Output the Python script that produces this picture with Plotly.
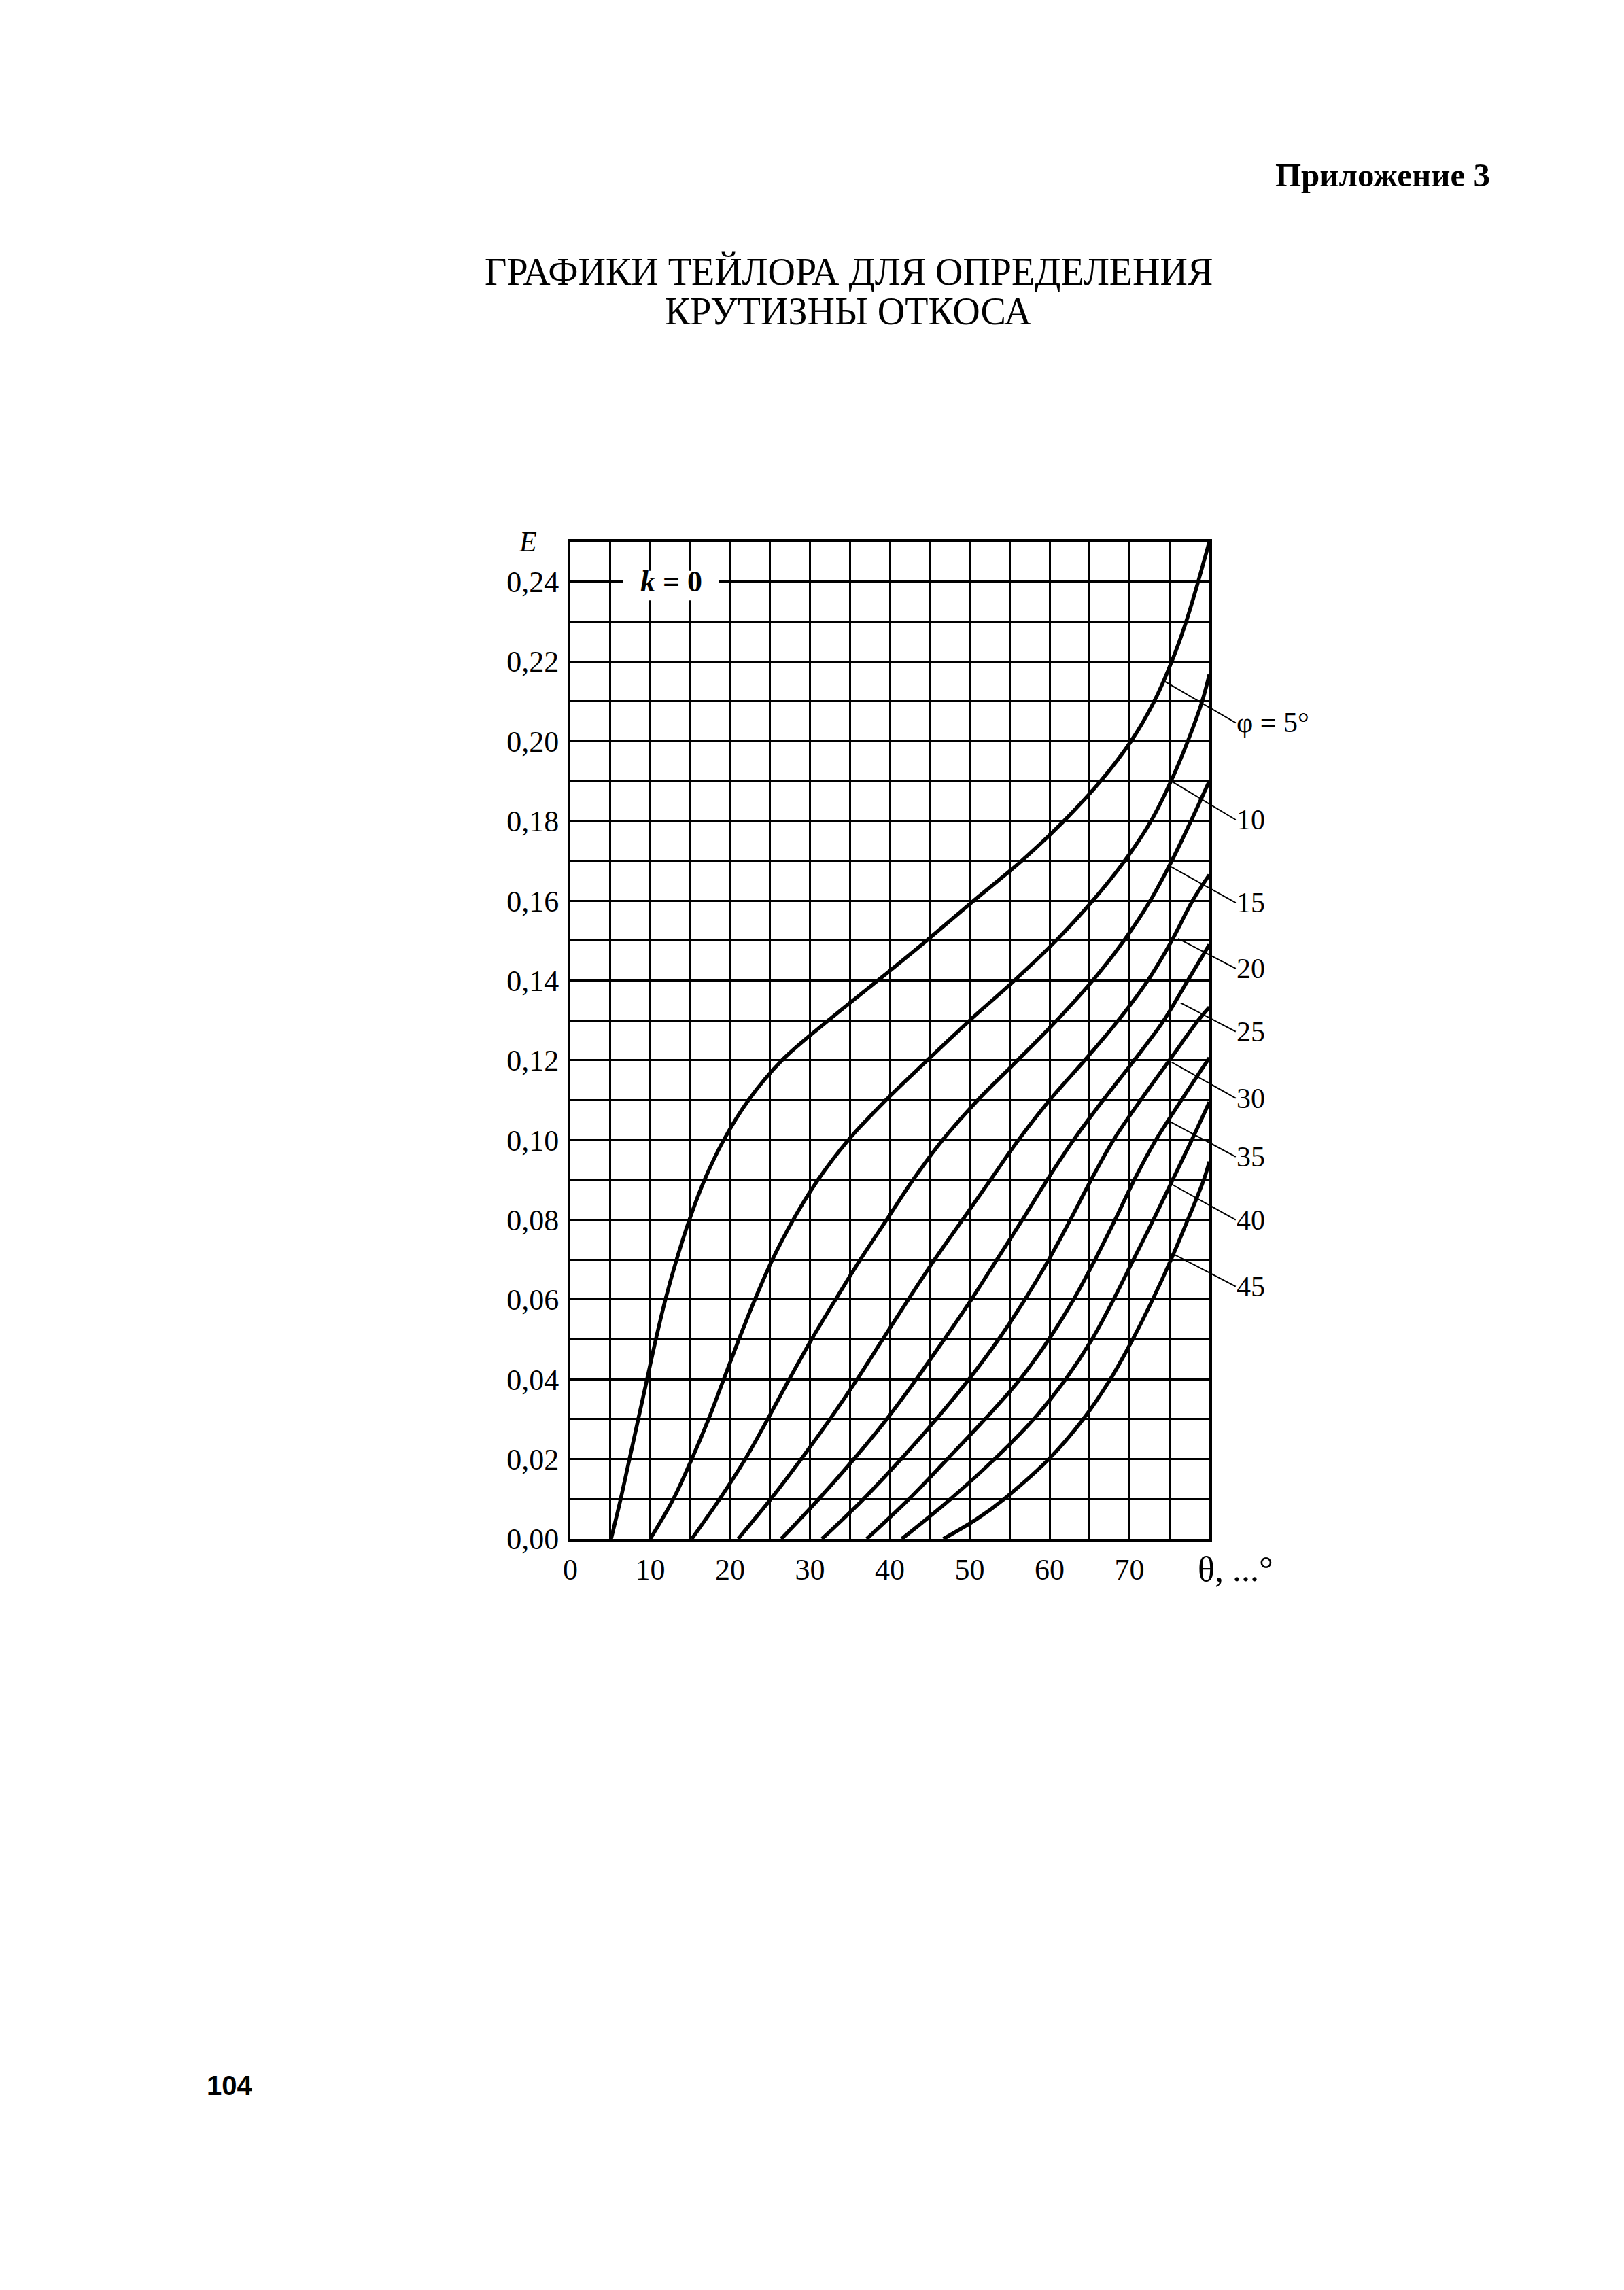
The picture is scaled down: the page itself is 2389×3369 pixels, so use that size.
import plotly.graph_objects as go

# ---------------- data ----------------
phi_labels = ["φ = 5°", "10", "15", "20", "25", "30", "35", "40", "45"]

theta_phi5 = [5.1, 6.3, 7.4, 8.5, 9.6, 10.7, 11.9, 13.3, 14.9, 16.8, 19.2, 22.3, 26.5,
              32.3, 38.5, 44.6, 50.5, 56.5, 61.8, 66.4, 70.2, 73.1, 75.3, 77.1, 78.6, 80.0]
E_phi5 = [0.00, 0.01, 0.02, 0.03, 0.04, 0.05, 0.06, 0.07, 0.08, 0.09, 0.10, 0.11, 0.12,
          0.13, 0.14, 0.15, 0.16, 0.17, 0.18, 0.19, 0.20, 0.21, 0.22, 0.23, 0.24, 0.25]

theta_phi10 = [10.0, 12.9, 15.2, 17.3, 19.2, 21.1, 23.1, 25.3, 27.9, 31.0, 34.8, 39.5,
               44.7, 50.0, 55.6, 60.8, 65.4, 69.4, 72.7, 75.2, 77.3, 79.1, 80.0]
E_phi10 = [0.00, 0.01, 0.02, 0.03, 0.04, 0.05, 0.06, 0.07, 0.08, 0.09, 0.10, 0.11,
           0.12, 0.13, 0.14, 0.15, 0.16, 0.17, 0.18, 0.19, 0.20, 0.21, 0.2167]

theta_phi15 = [15.2, 18.7, 21.9, 24.7, 27.4, 30.2, 33.2, 36.3, 39.6, 42.9, 46.6, 51.0,
               56.0, 60.9, 65.4, 69.3, 72.6, 75.3, 77.7, 80.0]
E_phi15 = [0.00, 0.01, 0.02, 0.03, 0.04, 0.05, 0.06, 0.07, 0.08, 0.09, 0.10, 0.11,
           0.12, 0.13, 0.14, 0.15, 0.16, 0.17, 0.18, 0.19]

theta_phi20 = [21.0, 25.1, 28.9, 32.5, 35.9, 39.1, 42.3, 45.6, 49.1, 52.6, 56.1, 60.0,
               64.4, 68.6, 72.3, 75.3, 77.9, 80.0]
E_phi20 = [0.00, 0.01, 0.02, 0.03, 0.04, 0.05, 0.06, 0.07, 0.08, 0.09, 0.10, 0.11,
           0.12, 0.13, 0.14, 0.15, 0.16, 0.1665]

theta_phi25 = [26.4, 31.1, 35.5, 39.6, 43.3, 46.8, 50.2, 53.4, 56.6, 59.7, 63.0, 66.7,
               70.6, 74.3, 77.3, 80.0]
E_phi25 = [0.00, 0.01, 0.02, 0.03, 0.04, 0.05, 0.06, 0.07, 0.08, 0.09, 0.10, 0.11,
           0.12, 0.13, 0.14, 0.149]

theta_phi30 = [31.5, 36.7, 41.4, 45.8, 49.9, 53.6, 56.9, 59.9, 62.6, 65.2, 68.0, 71.4,
               75.0, 78.6, 80.0]
E_phi30 = [0.00, 0.01, 0.02, 0.03, 0.04, 0.05, 0.06, 0.07, 0.08, 0.09, 0.10, 0.11,
           0.12, 0.13, 0.1333]

theta_phi35 = [37.1, 42.4, 47.2, 51.9, 56.3, 59.9, 63.0, 65.7, 68.2, 70.6, 73.3, 76.5, 80.0]
E_phi35 = [0.00, 0.01, 0.02, 0.03, 0.04, 0.05, 0.06, 0.07, 0.08, 0.09, 0.10, 0.11, 0.1206]

theta_phi40 = [41.5, 47.6, 53.1, 58.0, 62.0, 65.3, 68.0, 70.5, 73.0, 75.4, 77.8, 80.0]
E_phi40 = [0.00, 0.01, 0.02, 0.03, 0.04, 0.05, 0.06, 0.07, 0.08, 0.09, 0.10, 0.1095]

theta_phi45 = [46.7, 50.9, 54.3, 59.9, 64.2, 67.6, 70.4, 72.9, 75.2, 77.3, 79.3, 80.0]
E_phi45 = [0.00, 0.005, 0.01, 0.02, 0.03, 0.04, 0.05, 0.06, 0.07, 0.08, 0.09, 0.0946]

x_tick_vals = [0, 10, 20, 30, 40, 50, 60, 70]
x_tick_text = ["0", "10", "20", "30", "40", "50", "60", "70"]
y_tick_vals = [0.00, 0.02, 0.04, 0.06, 0.08, 0.10, 0.12, 0.14, 0.16, 0.18, 0.20, 0.22, 0.24]
y_tick_text = ["0,00", "0,02", "0,04", "0,06", "0,08", "0,10", "0,12", "0,14",
               "0,16", "0,18", "0,20", "0,22", "0,24"]

curves_theta = [theta_phi5, theta_phi10, theta_phi15, theta_phi20, theta_phi25,
                theta_phi30, theta_phi35, theta_phi40, theta_phi45]
curves_E = [E_phi5, E_phi10, E_phi15, E_phi20, E_phi25, E_phi30, E_phi35, E_phi40, E_phi45]

# ---------------- layout constants ----------------
W, H = 2373, 3353          # page body keeps an 8px margin
ML, MT = 831, 789
PW, PH = 940, 1467
MR, MB = W - ML - PW, H - MT - PH
SERIF = "Liberation Serif"

# leader lines: point on curve (head) and label anchor (tail)
leader_head_x = [74.4, 75.3, 75.2, 76.1, 76.4, 75.3, 75.2, 75.2, 75.3]
leader_head_y = [0.2150, 0.1899, 0.1685, 0.1505, 0.1344, 0.1195, 0.1045, 0.0890, 0.0716]
leader_tail_x = 83.3
leader_tail_y = [0.2046, 0.1803, 0.1595, 0.1430, 0.1272, 0.1105, 0.0958, 0.0800, 0.0633]

fig = go.Figure()
for th, ee, lab in zip(curves_theta, curves_E, phi_labels):
    fig.add_trace(go.Scatter(x=th, y=ee, mode="lines", name=lab,
                             line=dict(color="black", width=5.5, shape="spline", smoothing=1.0),
                             hoverinfo="skip", showlegend=False))

annotations = []
for hx, hy, ty, lab in zip(leader_head_x, leader_head_y, leader_tail_y, phi_labels):
    annotations.append(dict(x=hx, y=hy, xref="x", yref="y",
                            ax=leader_tail_x, ay=ty, axref="x", ayref="y",
                            text=lab, showarrow=True, arrowhead=0, arrowwidth=2,
                            arrowcolor="black", standoff=0, startstandoff=0,
                            xanchor="left", yanchor="middle", borderpad=0,
                            font=dict(family=SERIF, size=42, color="black")))

# k = 0
annotations.append(dict(x=12.6, y=0.2400, xref="x", yref="y", showarrow=False,
                        text="<b><i>k</i> = 0</b>",
                        font=dict(family=SERIF, size=44, color="black")))
# axis labels
annotations.append(dict(x=-0.0664, y=1.0, xref="paper", yref="paper", showarrow=False,
                        xanchor="center", yanchor="middle",
                        text="<i>E</i>", font=dict(family=SERIF, size=42, color="black")))
annotations.append(dict(x=1.041, y=-0.0300, xref="paper", yref="paper", showarrow=False,
                        xanchor="center", yanchor="middle",
                        text="θ, ...°", font=dict(family=SERIF, size=52, color="black")))
# titles / page text
annotations.append(dict(x=0.4354, y=1.2713, xref="paper", yref="paper", showarrow=False,
                        xanchor="center", yanchor="middle", height=59, borderpad=0,
                        text="ГРАФИКИ ТЕЙЛОРА ДЛЯ ОПРЕДЕЛЕНИЯ",
                        font=dict(family=SERIF, size=56, color="black")))
annotations.append(dict(x=0.4354, y=1.2311, xref="paper", yref="paper", showarrow=False,
                        xanchor="center", yanchor="middle", height=59, borderpad=0,
                        text="КРУТИЗНЫ ОТКОСА",
                        font=dict(family=SERIF, size=56, color="black")))
annotations.append(dict(x=1.442, y=1.368, xref="paper", yref="paper", showarrow=False,
                        xanchor="right", yanchor="middle",
                        text="<b>Приложение 3</b>",
                        font=dict(family=SERIF, size=49, color="black")))
annotations.append(dict(x=-0.5337, y=-0.548, xref="paper", yref="paper", showarrow=False,
                        xanchor="center", yanchor="middle",
                        text="<b>104</b>",
                        font=dict(family="Liberation Sans", size=40, color="black")))

shapes = [dict(type="rect", xref="x", yref="y", x0=6.6, x1=18.6, y0=0.2353, y1=0.2427,
               fillcolor="white", line=dict(width=0), layer="above")]

fig.update_layout(
    width=W, height=H,
    margin=dict(l=ML, r=MR, t=MT, b=MB, pad=0),
    paper_bgcolor="white", plot_bgcolor="white",
    showlegend=False,
    annotations=annotations, shapes=shapes,
    font=dict(family=SERIF, color="black"),
)
fig.update_xaxes(range=[0, 80], tickmode="array", tickvals=x_tick_vals, ticktext=x_tick_text,
                 showgrid=True, gridcolor="black", gridwidth=3,
                 minor=dict(tickmode="linear", tick0=0, dtick=5, showgrid=True,
                            gridcolor="black", gridwidth=3),
                 showline=True, mirror=True, linecolor="black", linewidth=4,
                 zeroline=False, ticks="", ticklabelstandoff=3,
                 tickfont=dict(family=SERIF, size=44, color="black"))
fig.update_yaxes(range=[0, 0.25], tickmode="array", tickvals=y_tick_vals, ticktext=y_tick_text,
                 showgrid=True, gridcolor="black", gridwidth=3,
                 minor=dict(tickmode="linear", tick0=0, dtick=0.01, showgrid=True,
                            gridcolor="black", gridwidth=3),
                 showline=True, mirror=True, linecolor="black", linewidth=4,
                 zeroline=False, ticks="", ticklabelstandoff=4,
                 tickfont=dict(family=SERIF, size=44, color="black"))

fig.write_html("out.html")
